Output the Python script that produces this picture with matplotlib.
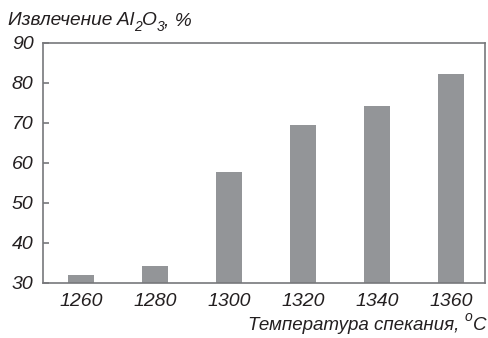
import matplotlib
matplotlib.use('Agg')
import matplotlib.pyplot as plt
from matplotlib.transforms import offset_copy

# data
temps = ['1260', '1280', '1300', '1320', '1340', '1360']
extraction = [32.0, 34.2, 57.8, 69.5, 74.2, 82.2]
yticks = [30, 40, 50, 60, 70, 80, 90]

plt.rcParams['font.family'] = ['Liberation Sans', 'DejaVu Sans']
plt.rcParams['font.style'] = 'italic'

txt = '#231f20'
edge = '#77787b'

fig = plt.figure(figsize=(4.88, 3.38), dpi=100)
ax = fig.add_axes([0.089, 0.163, 0.905, 0.71])

x = range(len(temps))
ax.bar(x, extraction, width=0.35, color='#939598', bottom=0)

ax.set_ylim(30, 90)
ax.set_xlim(-0.507, 5.46)
ax.set_yticks(yticks)
ax.set_yticklabels([str(v) for v in yticks], fontsize=14, color=txt, fontstyle='italic')
ax.set_xticks(list(x))
ax.set_xticklabels(temps, fontsize=14, color=txt, fontstyle='italic')
ax.tick_params(axis='y', direction='in', length=4, width=1.2, color=edge, pad=7)
ax.tick_params(axis='x', length=0, pad=7)

for s in ax.spines.values():
    s.set_color(edge)
    s.set_linewidth(1.2)


# write a string in pieces, each piece (text, size, dy in points) after the previous one
def chain_text(x0, y0, pieces):
    renderer = fig.canvas.get_renderer()
    trans = fig.transFigure
    dx = 0
    for s, size, dy in pieces:
        t = fig.text(x0, y0, s, fontsize=size, color=txt, fontstyle='italic', va='baseline',
                     ha='left', transform=offset_copy(trans, fig=fig, x=dx, y=dy, units='points'))
        w = t.get_window_extent(renderer).width
        dx += w * 72 / fig.dpi


chain_text(0.016, 0.925, [('Извлечение Al', 13.8, 0), ('2', 10, -4), ('O', 13.8, 0),
                          ('3', 10, -4), (', %', 13.8, 0)])

# x label, right aligned: measure first
renderer = fig.canvas.get_renderer()
parts = [('Температура спекания, ', 13.5, 0), ('o', 10, 6), ('C', 13.5, 0)]
total = 0
for s, size, dy in parts:
    t = fig.text(0, 0, s, fontsize=size, fontstyle='italic')
    total += t.get_window_extent(renderer).width
    t.remove()
chain_text(0.996 - total / fig.bbox.width, 0.025, parts)

plt.savefig('out.png', dpi=100)
